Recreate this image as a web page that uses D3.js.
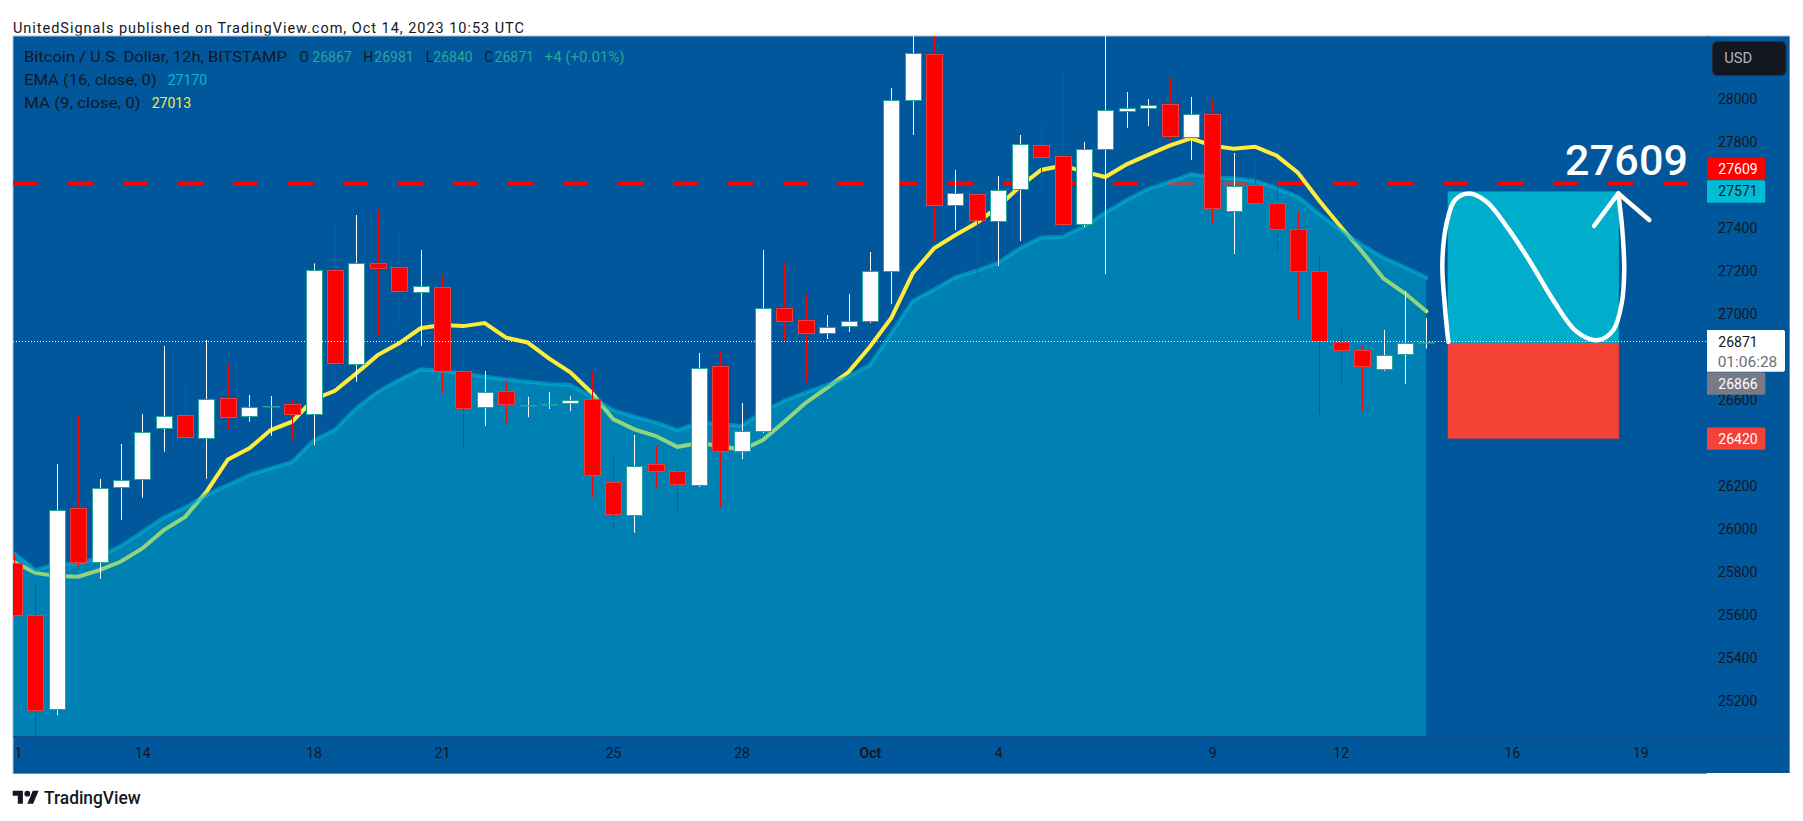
<!DOCTYPE html>
<html lang="en">

<head>
  <meta charset="UTF-8">
  <title>BTCUSD 12h</title>
  <script src="https://cdn.jsdelivr.net/npm/d3@7"></script>
  <style type="text/css">
    html,
    body {
      margin: 0;
      background: #fff;
    }

    svg {
      display: block;
    }

    text {
      font-family: Roboto, "Liberation Sans", sans-serif;
      font-size: 14px;
      fill: #131722;
    }
  </style>
</head>

<body>
  <script>
    // candles, one every 12h
    var opens = [25839, 25597, 25159, 26095, 25844, 26193, 26230, 26473, 26528, 26426,
      26608, 26524, 26573, 26580, 26533, 27204, 26766, 27236, 27218, 27101,
      27124, 26733, 26570, 26640, 26576, 26581, 26584, 26603, 26216, 26067,
      26300, 26268, 26202, 26757, 26361, 26454, 27027, 26971, 26910, 26943,
      26966, 27199, 27995, 28210, 27506, 27558, 27432, 27581, 27786, 27735,
      27418, 27767, 27944, 27958, 27977, 27823, 27930, 27478, 27600, 27516,
      27395, 27199, 26868, 26831, 26743, 26817, 26867];
    var closes = [25597, 25155, 26086, 25844, 26188, 26226, 26449, 26527, 26426, 26606,
      26519, 26568, 26573, 26533, 27204, 26771, 27236, 27213, 27104, 27129,
      26733, 26559, 26638, 26580, 26576, 26581, 26598, 26249, 26067, 26294,
      26268, 26207, 26747, 26361, 26454, 27027, 26966, 26910, 26938, 26966,
      27199, 27995, 28214, 27506, 27562, 27437, 27576, 27790, 27730, 27418,
      27767, 27949, 27958, 27972, 27828, 27930, 27492, 27595, 27516, 27395,
      27199, 26873, 26831, 26757, 26808, 26866, 26871];
    var highs = [25882, 25738, 26302, 26530, 26232, 26395, 26534, 26851, 26683, 26879,
      26767, 26623, 26618, 26604, 27236, 27423, 27461, 27488, 27391, 27298,
      27177, 26777, 26735, 26688, 26615, 26638, 26618, 26730, 26331, 26437,
      26385, 26296, 26819, 26823, 26586, 27298, 27238, 27093, 26995, 27093,
      27289, 28053, 28330, 28340, 27671, 27582, 27643, 27834, 27888, 28127,
      27801, 28360, 28034, 28001, 28104, 28011, 27997, 27750, 27736, 27624,
      27475, 27266, 26935, 26854, 26926, 27107, 26981];
    var lows = [25590, 25020, 25133, 25823, 25767, 26042, 26145, 26359, 26391, 26233,
      26463, 26499, 26433, 26417, 26389, 26656, 26685, 26902, 26954, 26853,
      26631, 26378, 26479, 26493, 26520, 26558, 26548, 26148, 26010, 25982,
      26190, 26087, 26195, 26098, 26325, 26446, 26874, 26683, 26884, 26916,
      26958, 27047, 27834, 27335, 27391, 27172, 27224, 27340, 27560, 27368,
      27405, 27186, 27866, 27876, 27806, 27717, 27424, 27280, 27508, 27294,
      26977, 26534, 26670, 26548, 26735, 26674, 26840];

    var ma9 = [25847, 25795, 25780, 25777, 25808, 25848, 25909, 25994, 26056, 26173,
      26323, 26375, 26460, 26499, 26603, 26643, 26724, 26809, 26864, 26934,
      26949, 26944, 26958, 26890, 26868, 26794, 26729, 26634, 26511, 26463,
      26432, 26382, 26398, 26387, 26367, 26413, 26499, 26587, 26657, 26730,
      26848, 26982, 27190, 27306, 27368, 27425, 27500, 27593, 27671, 27691,
      27663, 27638, 27697, 27741, 27784, 27818, 27784, 27770, 27779, 27738,
      27658, 27528, 27407, 27290, 27166, 27097, 27013];
    var ema16 = [25886, 25808, 25836, 25836, 25870, 25920, 25986, 26053, 26100, 26157,
      26204, 26250, 26282, 26312, 26411, 26461, 26562, 26638, 26693, 26743,
      26736, 26724, 26708, 26696, 26685, 26674, 26670, 26615, 26553, 26522,
      26496, 26460, 26494, 26488, 26479, 26545, 26596, 26634, 26670, 26708,
      26763, 26910, 27061, 27115, 27171, 27202, 27239, 27306, 27357, 27360,
      27407, 27472, 27531, 27582, 27616, 27652, 27637, 27632, 27621, 27586,
      27546, 27466, 27391, 27321, 27262, 27218, 27170];

    // 26400, 26800 and 27600 sit behind the price tags, so they are not listed
    var priceTicks = [25200, 25400, 25600, 25800, 26000, 26200, 26600,
      27000, 27200, 27400, 27800, 28000];
    var timeTicks = [0, 6, 14, 20, 28, 34, 40, 46, 56, 62, 70, 76];
    var timeLabels = ['11', '14', '18', '21', '25', '28', 'Oct', '4', '9', '12', '16', '19'];

    var targetLine = 27609;
    var lastClose = 26871;
    var entry = 26866;
    var takeProfit = 27571;
    var stopLoss = 26420;
    var boxBars = [67, 75];

    // hand drawn curve on the right, bar index and price
    var brushBars = [67.03, 66.87, 66.75, 66.95, 67.34, 68.01, 68.82, 69.76, 70.85, 71.93,
      73.03, 74.04, 74.74, 75.13, 75.25, 75.16, 74.97];
    var brushPrices = [26871, 27034, 27236, 27423, 27531, 27562, 27523, 27407, 27244, 27065,
      26918, 26879, 26926, 27050, 27205, 27391, 27562];
    var arrowBars = [73.84, 74.97, 76.42];
    var arrowPrices = [27410, 27562, 27438];

    var w = 1803;
    var h = 821;
    var left = 13, top_ = 36, right = 1789, bottom = 773;
    var plotRight = 1707, plotBottom = 736;

    var x = d3.scaleLinear().domain([0, 66]).range([13.9, 1426.3]);
    var y = d3.scaleLinear().domain([28000, 25200]).range([99.3, 700.7]);

    var svg = d3.select('body')
      .append('svg')
      .attr('width', w)
      .attr('height', h);

    var defs = svg.append('defs');
    defs.append('clipPath').attr('id', 'plot')
      .append('rect')
      .attr('x', left).attr('y', top_)
      .attr('width', plotRight - left).attr('height', plotBottom - top_);
    defs.append('clipPath').attr('id', 'timeclip')
      .append('rect')
      .attr('x', left).attr('y', plotBottom)
      .attr('width', plotRight - left).attr('height', bottom - plotBottom);

    svg.append('text')
      .attr('x', 13).attr('y', 32.5)
      .attr('textLength', 511)
      .attr('lengthAdjust', 'spacing')
      .style('font-size', '14.5px')
      .text('UnitedSignals published on TradingView.com, Oct 14, 2023 10:53 UTC');

    svg.append('rect')
      .attr('x', left).attr('y', top_)
      .attr('width', right - left).attr('height', bottom - top_)
      .attr('fill', '#01579b');
    svg.append('path')
      .attr('d', 'M' + left + ',' + bottom + 'V' + top_ + 'H' + right)
      .attr('fill', 'none')
      .attr('stroke', '#a9c0d8');
    svg.append('path')
      .attr('d', 'M' + left + ',' + (bottom + 0.5) + 'H' + plotRight + 'M' + (right + 0.5) + ',' + top_ + 'V' + bottom)
      .attr('fill', 'none')
      .attr('stroke', '#5c94cc');

    var plot = svg.append('g').attr('clip-path', 'url(#plot)');
    var bars = d3.range(opens.length);

    // the dashed level and the MA sit under the translucent area
    plot.append('line')
      .attr('x1', left).attr('x2', plotRight)
      .attr('y1', y(targetLine)).attr('y2', y(targetLine))
      .attr('stroke', '#ff0000')
      .attr('stroke-width', 4.6)
      .attr('stroke-dasharray', '25,30');

    var maLine = d3.line()
      .x(function (i) { return x(i); })
      .y(function (i) { return y(ma9[i]); });
    plot.append('path')
      .attr('d', maLine(bars))
      .attr('fill', 'none')
      .attr('stroke', '#ffeb3b')
      .attr('stroke-width', 4)
      .attr('stroke-linecap', 'round');

    var emaLine = d3.line()
      .x(function (i) { return x(i); })
      .y(function (i) { return y(ema16[i]); });
    plot.append('path')
      .attr('d', emaLine(bars))
      .attr('fill', 'none')
      .attr('stroke', '#00b8d4')
      .attr('stroke-opacity', 0.55)
      .attr('stroke-width', 4)
      .attr('stroke-linecap', 'round');

    var emaArea = d3.area()
      .x(function (i) { return x(i); })
      .y0(plotBottom)
      .y1(function (i) { return y(ema16[i]); });
    plot.append('path')
      .attr('d', emaArea(bars))
      .attr('fill', '#00b8d4')
      .attr('fill-opacity', 0.44);

    function isFlat(i) {
      return Math.abs(opens[i] - closes[i]) <= 5;
    }

    plot.selectAll('.wick')
      .data(bars)
      .enter().append('line')
      .attr('class', 'wick')
      .attr('x1', function (i) { return Math.round(x(i)) + 0.5; })
      .attr('x2', function (i) { return Math.round(x(i)) + 0.5; })
      .attr('y1', function (i) { return y(highs[i]); })
      .attr('y2', function (i) { return y(lows[i]); })
      .attr('stroke', function (i) { return closes[i] < opens[i] ? '#ff0000' : '#ffffff'; });

    plot.selectAll('.body')
      .data(bars)
      .enter().append('rect')
      .attr('class', 'body')
      .attr('x', function (i) { return Math.round(x(i)) - 7.5; })
      .attr('width', 16)
      .attr('y', function (i) { return Math.round(y(Math.max(opens[i], closes[i]))) + 0.5; })
      .attr('height', function (i) { return isFlat(i) ? 0.5 : Math.round(y(Math.min(opens[i], closes[i])) - y(Math.max(opens[i], closes[i]))); })
      .attr('fill', function (i) { return closes[i] < opens[i] ? '#ff0000' : '#ffffff'; })
      .attr('stroke', function (i) { return closes[i] < opens[i] ? '#f23c3c' : '#26a69a'; });

    // long position box
    plot.append('rect')
      .attr('x', x(boxBars[0])).attr('width', x(boxBars[1]) - x(boxBars[0]))
      .attr('y', y(takeProfit)).attr('height', y(entry) - y(takeProfit))
      .attr('fill', '#00aecb');
    plot.append('rect')
      .attr('x', x(boxBars[0])).attr('width', x(boxBars[1]) - x(boxBars[0]))
      .attr('y', y(entry)).attr('height', y(stopLoss) - y(entry))
      .attr('fill', '#f44336');

    plot.append('line')
      .attr('x1', left).attr('x2', plotRight)
      .attr('y1', Math.round(y(lastClose)) - 0.5).attr('y2', Math.round(y(lastClose)) - 0.5)
      .attr('stroke', '#ffffff')
      .attr('stroke-dasharray', '1,2');

    var brush = d3.line()
      .curve(d3.curveCatmullRom)
      .x(function (i) { return x(brushBars[i]); })
      .y(function (i) { return y(brushPrices[i]); });
    plot.append('path')
      .attr('d', brush(d3.range(brushBars.length)))
      .attr('fill', 'none')
      .attr('stroke', '#ffffff')
      .attr('stroke-width', 4.5)
      .attr('stroke-linecap', 'round');

    var arrow = d3.line()
      .x(function (i) { return x(arrowBars[i]); })
      .y(function (i) { return y(arrowPrices[i]); });
    plot.append('path')
      .attr('d', arrow(d3.range(arrowBars.length)))
      .attr('fill', 'none')
      .attr('stroke', '#ffffff')
      .attr('stroke-width', 4.5)
      .attr('stroke-linecap', 'round')
      .attr('stroke-linejoin', 'round');

    plot.append('text')
      .attr('x', 1565).attr('y', 175)
      .attr('textLength', 123)
      .attr('lengthAdjust', 'spacing')
      .style('font-size', '43px')
      .style('font-weight', 500)
      .style('fill', '#ffffff')
      .text(targetLine);

    // axes
    svg.append('line')
      .attr('x1', left).attr('x2', right)
      .attr('y1', plotBottom + 0.5).attr('y2', plotBottom + 0.5)
      .attr('stroke', '#0d4f8c');
    svg.append('line')
      .attr('x1', plotRight + 0.5).attr('x2', plotRight + 0.5)
      .attr('y1', top_).attr('y2', bottom)
      .attr('stroke', '#0d4f8c');

    var yAxis = d3.axisRight(y)
      .tickValues(priceTicks)
      .tickSize(0)
      .tickPadding(11)
      .tickFormat(d3.format('d'));
    var yg = svg.append('g')
      .attr('transform', 'translate(' + plotRight + ',0)')
      .call(yAxis);
    yg.select('.domain').remove();
    yg.selectAll('text').style('font-size', '14px').attr('font-family', null);

    var xAxis = d3.axisBottom(x)
      .tickValues(timeTicks)
      .tickSize(0)
      .tickPadding(12)
      .tickFormat(function (d, i) { return timeLabels[i]; });
    var xg = svg.append('g')
      .attr('clip-path', 'url(#timeclip)')
      .append('g')
      .attr('transform', 'translate(0,' + plotBottom + ')');
    xg.call(xAxis);
    xg.select('.domain').remove();
    xg.selectAll('text')
      .style('font-size', '14px')
      .attr('font-family', null)
      .style('font-weight', function (d, i) { return timeLabels[i] === 'Oct' ? 700 : 400; });

    // legend
    function label(tx, ty, str, color, width) {
      var t = svg.append('text')
        .attr('x', tx).attr('y', ty)
        .style('fill', color || '#131722')
        .text(str);
      if (width) {
        t.attr('textLength', width).attr('lengthAdjust', 'spacingAndGlyphs');
      }
      return t;
    }
    var green = '#26a69a';
    label(24, 61.5, 'Bitcoin / U.S. Dollar, 12h, BITSTAMP', null, 263);
    label(299.3, 61.5, 'O');
    label(312.3, 61.5, opens[66], green);
    label(363.3, 61.5, 'H');
    label(374.3, 61.5, highs[66], green);
    label(425.7, 61.5, 'L');
    label(433.3, 61.5, lows[66], green);
    label(484.3, 61.5, 'C');
    label(494.6, 61.5, closes[66], green);
    label(544.6, 61.5, '+4 (+0.01%)', green, 80);
    label(24, 84.5, 'EMA (16, close, 0)', null, 132.7);
    label(167.7, 84.5, ema16[66], '#00bcd4');
    label(24, 107.5, 'MA (9, close, 0)', null, 116.7);
    label(151.7, 107.5, ma9[66], '#ffeb3b');

    // USD button
    svg.append('rect')
      .attr('x', 1712.5).attr('y', 41.5)
      .attr('width', 73.5).attr('height', 34)
      .attr('rx', 5)
      .attr('fill', '#131722')
      .attr('stroke', '#2a2e39');
    label(1724.3, 63, 'USD', '#b2b5be', 28);

    // price tags on the axis, pushed apart when they would collide
    function tag(price, centre, fill, color) {
      var tagH = 22.4, tagW = 58.3;
      svg.append('path')
        .attr('d', 'M' + plotRight + ',' + (centre - tagH / 2) + 'h' + (tagW - 2) + 'a2,2 0 0 1 2,2v' + (tagH - 4) + 'a2,2 0 0 1 -2,2h' + (2 - tagW) + 'z')
        .attr('fill', fill);
      label(1718.3, centre + 5, price, color);
    }
    tag(targetLine, 168.5, '#ff0000', '#ffffff');
    tag(takeProfit, y(takeProfit), '#00bcd4', '#131722');
    tag(stopLoss, y(stopLoss), '#f44336', '#ffffff');

    svg.append('path')
      .attr('d', 'M' + plotRight + ',330h76a2,2 0 0 1 2,2v37.7a2,2 0 0 1 -2,2h-76z')
      .attr('fill', '#ffffff');
    label(1718.3, y(lastClose) + 5.5, lastClose, '#131722');
    label(1717.7, 366.5, '01:06:28', '#6a6d78', 59.6);
    svg.append('path')
      .attr('d', 'M' + plotRight + ',372.3h56.3a2,2 0 0 1 2,2v18.4a2,2 0 0 1 -2,2h-56.3z')
      .attr('fill', '#787b86');
    label(1718.3, 388.5, entry, '#ffffff');

    // logo
    var logo = svg.append('g')
      .attr('transform', 'translate(12.7,787.8) scale(0.73)')
      .attr('fill', '#131722');
    logo.append('path').attr('d', 'M14 22H7V11H0V4h14v18zM28 22h-8l7.5-18h8L28 22z');
    logo.append('circle').attr('cx', 20).attr('cy', 8).attr('r', 4);
    svg.append('text')
      .attr('x', 44).attr('y', 804)
      .attr('textLength', 96.7)
      .attr('lengthAdjust', 'spacingAndGlyphs')
      .style('font-size', '18px')
      .style('font-weight', 500)
      .text('TradingView');
  </script>
</body>

</html>
